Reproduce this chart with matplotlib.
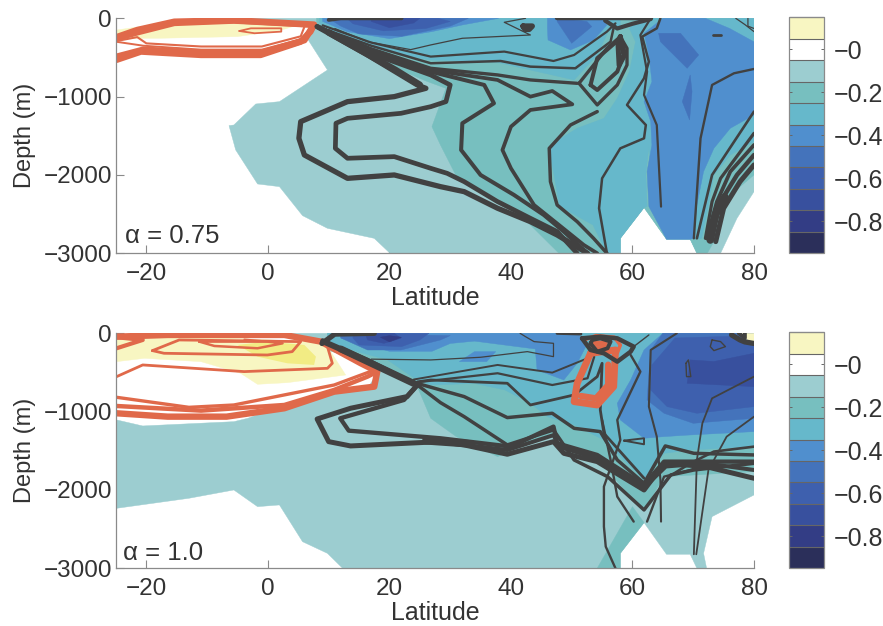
import matplotlib
matplotlib.use("Agg")
import matplotlib.pyplot as plt
from matplotlib.colors import ListedColormap, BoundaryNorm
from matplotlib.cm import ScalarMappable

plt.rcParams['font.family'] = ['Liberation Sans', 'DejaVu Sans']

# ---- colour scale ----
bin_edges = [-0.95, -0.85, -0.75, -0.65, -0.55, -0.45, -0.35, -0.25, -0.15, -0.05, 0.05, 0.15]
bin_colors = ['#2B2F5A', '#333D85', '#38509E', '#3E60AE', '#4473BB', '#508FCE',
              '#66B8CB', '#77BFBF', '#9CCDD0', '#FFFFFF', '#F8F6C2']
cbar_ticks = [0, -0.2, -0.4, -0.6, -0.8]
cbar_labels = ['\u22120', '\u22120.2', '\u22120.4', '\u22120.6', '\u22120.8']
lat_ticks = [-20, 0, 20, 40, 60, 80]
depth_ticks = [0, -1000, -2000, -3000]

# ---- top panel: filled regions (lat, depth below surface) ----
a_m01 = [(-3.7, 0), (7, 80), (6.5, 260), (9.8, 660), (1.9, 1064), (-2, 1094), (-5.6, 1362), (-6.4, 1370),
         (-5.3, 1681), (-1.7, 2115), (1.9, 2149), (5.7, 2519), (9.8, 2681), (17.5, 2809), (20.1, 3000),
         (58, 3000), (58, 2809), (61.9, 2417), (65.6, 2821), (69.5, 2821), (70.6, 3000), (74.5, 3000),
         (77.2, 2553), (80, 2213), (80, 0)]
a_m02 = [(8, 80), (17, 500), (26, 800), (29.3, 894), (27, 1383), (28.4, 1617), (31.2, 2043), (37.8, 2298),
         (43.2, 2638), (47.9, 3000), (58, 3000), (58, 2809), (61.9, 2417), (65.6, 2821), (69.5, 2821),
         (70.6, 3000), (72.3, 3000), (73.4, 2851), (73.9, 2595), (76.1, 2255), (80, 2000), (80, 0), (8, 0)]
a_m03_top = [(8.5, 60), (13.6, 298), (21.9, 468), (26.8, 532), (37.8, 562), (43.2, 660), (50.4, 787),
             (54.2, 468), (56, 170), (58, 100), (58, 0), (8.5, 0)]
a_m03_mid = [(46.3, 1702), (46.5, 1617), (50.9, 1404), (55.3, 1277), (57.5, 1021), (59.5, 680), (60.5, 300),
             (59.5, 128), (61, 0), (63, 0), (63, 680), (61.9, 1106), (63, 1400), (62.2, 1990), (62.4, 2400),
             (61.9, 2417), (58, 2809), (58, 3000), (55.8, 3000), (53.5, 2638), (48, 2400), (47, 1957)]
a_m03_right = [(61, 0), (80, 0), (80, 1574), (76.1, 1745), (73.4, 2000), (72.5, 2383), (71.4, 2809),
               (70, 2821), (63, 2000)]
a_m04_left = [(9, 40), (13, 170), (20, 260), (27, 170), (32, 85), (38, 0), (9, 0)]
a_m04_mid = [(46, 128), (46.1, 277), (49.8, 404), (53.6, 277), (55.8, 85), (55, 0), (46, 0)]
a_m04_right = [(65, 0), (61.9, 191), (62.7, 468), (63.2, 808), (61.9, 1064), (63, 1319), (63.2, 1617),
               (62.4, 1957), (62.7, 2404), (65.6, 2821), (69.5, 2821), (70.1, 2809), (70.6, 2383), (71.7, 1957),
               (73.4, 1660), (76.1, 1404), (80, 1234), (80, 300), (76, 130), (72, 0)]
a_m05_left = [(12, 100), (15, 200), (22, 230), (30, 100), (33, 0), (10, 0)]
a_m05_mid = [(47.6, 40), (50, 319), (53.3, 106), (52.5, 40), (47.6, 0)]
a_m05_r1 = [(64.3, 191), (64.6, 298), (69, 638), (70.9, 468), (67.9, 191)]
a_m05_r2 = [(69.5, 723), (68.2, 1064), (69.4, 1298), (69.8, 936)]
a_m06 = [(14, 70), (19, 160), (26, 130), (30, 40), (28, 0), (13, 0)]
a_m07 = [(17, 40), (20, 120), (24, 60), (25, 0), (17, 0)]
a_pos = [(-24.9, 150), (-15.4, 43), (5, 85), (2.2, 150), (-5, 234), (-18, 255), (-24.9, 255)]

# ---- top panel: contour lines ----
a_k1 = [(8.1, 106), (16.4, 468), (24.6, 851), (26, 894), (20.8, 1000), (13.1, 1064), (5.4, 1319), (5.1, 1532),
        (6, 1745), (13.1, 2043), (20.8, 2000), (28.4, 2149), (32.3, 2213), (37.8, 2425), (43.2, 2596),
        (47.6, 2766), (52.6, 3000)]
a_k2 = [(8.1, 106), (17, 450), (26.8, 723), (30, 851), (29.3, 1064), (26.8, 1128), (21.9, 1213), (13.1, 1277),
        (11.2, 1340), (11.1, 1660), (13.1, 1787), (20.8, 1766), (26.8, 1915), (29.5, 1979), (32.3, 2085),
        (37.8, 2340), (43.2, 2553), (47.6, 2723), (50.9, 3000)]
a_k3 = [(8.1, 106), (17, 420), (26.8, 681), (35.6, 851), (37.2, 1085), (32, 1340), (31.8, 1681), (35, 2000),
        (40.5, 2255), (45.4, 2510), (48.7, 2723), (52.6, 3000)]
a_k4 = [(8.1, 106), (17, 400), (26.8, 660), (37.8, 787), (43.2, 1000), (46.8, 928), (50.1, 1098), (43.2, 1170),
        (40, 1383), (38.6, 1681), (40, 1915), (43.8, 2383), (47.9, 2638), (52, 2894), (54.2, 3000)]
a_k5a = [(8.1, 106), (17, 390), (26.8, 638), (37.8, 723), (43.2, 787), (50.9, 830)]
a_k5b = [(54.2, 1191), (49.8, 1362), (46.3, 1660), (46.5, 2085), (47.6, 2383), (50.9, 2596), (53.6, 2809),
         (55.8, 3000)]
a_fan = [(10, 180), (16, 440), (21, 660), (25, 850)]
a_d1 = [(51.2, 830), (54.2, 1106), (57.5, 851), (59.1, 596), (59.1, 383), (58, 234), (55.8, 383), (51.2, 830)]
a_d2 = [(53.1, 851), (54.2, 915), (57.5, 681), (58.5, 468), (58, 255), (54.2, 510), (53.1, 851)]
a_d3 = [(58, 234), (58.7, 468), (57.8, 600), (57.6, 300), (58, 234)]
a_k6 = [(8.1, 106), (17, 350), (26.8, 574), (38.3, 545), (43.2, 617), (50.6, 638), (56.4, 298), (57, 85)]
a_k7 = [(9, 90), (17, 310), (26.8, 489), (38.9, 425), (47, 545), (50.4, 468), (55.8, 170), (57.2, 64)]
a_k8 = [(11, 130), (16.4, 298), (23.5, 400), (26.8, 340), (32, 255), (43.2, 213), (38.9, 51), (42.4, 0)]
a_top1 = [(47.6, 0), (63, 0)]
a_top2 = [(55.5, 30), (57.5, 130), (60, 70), (63, 10)]
a_top3 = [(10, 20), (12, 0), (22, 0)]
a_blob = [(42, 100), (43.5, 100), (43, 140), (42.3, 140), (42, 100)]
a_j1 = [(64.6, 0), (64, 128), (61.6, 234), (62.7, 553), (61.9, 766), (59.1, 1106), (62.2, 1362), (61.9, 1532),
        (58, 1660), (55, 2043), (54.5, 2425), (55.8, 3000)]
a_j2 = [(63, 0), (61.3, 213), (62.4, 681), (61.9, 978), (64, 1362), (64.7, 2404)]
a_j3 = [(70.1, 2809), (71.2, 1532), (73.1, 851), (76.7, 702), (80, 647)]
a_f1 = [(70.6, 2809), (73.1, 2000), (80, 1191)]
a_f2 = [(72, 2809), (73.1, 2340), (74.5, 2043), (80, 1468)]
a_f3 = [(72.2, 2809), (73.9, 2340), (76.1, 1957), (80, 1617)]
a_f4 = [(72.8, 2830), (74.5, 2340), (77.2, 2000), (80, 1745)]
a_f5 = [(73.7, 2851), (75, 2425), (77.7, 2085), (80, 1872)]
a_f6 = [(72.8, 2830), (73.7, 2500), (75.2, 2280)]
a_s1 = [(77, 0), (78.5, 80), (80, 170)]
a_s2 = [(79, 0), (79, 100), (80, 130)]
a_s3 = [(73.2, 213), (74.5, 213)]

# ---- top panel: positive (orange) lines ----
a_o1 = [(-24.9, 240), (-21.5, 149), (-15.4, 43), (-5.6, 25), (7.6, 80), (7, 170), (5.4, 298), (-1.2, 468),
        (-11, 468), (-20.9, 425), (-24.9, 530)]
a_o2 = [(-24.9, 265), (-21.5, 190), (-15.4, 70), (-5.6, 40), (6.8, 90)]
a_o3 = [(-24.9, 290), (-21.5, 240), (-20, 320), (-11, 360), (-1, 360), (5.4, 230), (6, 110)]
a_o4 = [(-24.9, 300), (-20.5, 350), (-11, 400), (-1, 400), (5.8, 260)]
a_o5 = [(-24.9, 490), (-20.5, 400), (-11, 440), (-1, 440), (6, 280), (7.4, 100)]
a_o6 = [(-4.7, 162), (-2.8, 128), (2.2, 128), (2.2, 170), (-2.2, 191), (-4.7, 162)]

# ---- bottom panel: filled regions ----
b_m01 = [(-24.9, 1106), (-20.6, 1183), (-5.6, 1128), (-3.3, 1085), (6.5, 808), (16.4, 702), (18, 510),
         (15, 370), (9.8, 170), (6, 85), (2.7, 0), (80, 0), (80, 2064), (73.1, 2340), (71.7, 2809),
         (72.2, 3000), (70.6, 3000), (69.5, 2821), (65.6, 2821), (61.9, 2417), (58, 2809), (58, 3000),
         (12.3, 3000), (9.8, 2809), (5.7, 2660), (1.9, 2191), (-1.7, 2213), (-5.6, 2000), (-13, 2106),
         (-24.9, 2234)]
b_m02 = [(9.8, 213), (19.7, 468), (24.6, 681), (26.8, 1085), (31, 1319), (37.8, 1574), (43, 1400), (47, 1277),
         (49.8, 1489), (55.3, 1702), (59.7, 2085), (61.9, 2255), (65.2, 1830), (80, 1766), (80, 0), (9.8, 0)]
b_m02_strip = [(60, 2213), (61.9, 2417), (58, 2809), (58, 3000), (54.2, 3000)]
b_m03 = [(9.8, 130), (19.7, 340), (24.6, 600), (26.8, 660), (34, 640), (39, 723), (43.2, 894), (46, 1064),
         (50.4, 1170), (55.3, 1362), (59.7, 1702), (61.9, 1872), (65.2, 1532), (69.5, 1489), (80, 1447),
         (80, 0), (9.8, 0)]
b_m04_left = [(12, 60), (20, 230), (27, 230), (30, 130), (34, 100), (37, 130), (44, 200), (44.3, 468),
              (48.7, 596), (50.9, 383), (52.6, 128), (50.9, 0), (12, 0)]
b_m04_patch = [(31.5, 362), (34, 234), (37.5, 234), (36, 362)]
b_m04_right = [(65, 0), (61.9, 213), (59.7, 596), (57.5, 893), (58, 1106), (61.9, 1340), (65.2, 1319),
               (69, 1300), (80, 1255), (80, 0)]
b_m05_left = [(12, 60), (16.4, 213), (21.9, 213), (28.4, 85), (30, 30), (12, 0)]
b_m05_right = [(65, 0), (63, 213), (62.4, 851), (65.2, 1021), (70, 1149), (80, 1085), (80, 0)]
b_m06_left = [(14, 60), (15, 149), (22, 170), (25, 85), (26.5, 0), (14, 0)]
b_m06_right = [(67, 60), (63.2, 404), (63, 723), (65.7, 936), (70.6, 1021), (80, 936), (80, 30)]
b_m07_left = [(16.4, 85), (19.1, 128), (21.9, 64), (20.8, 0), (16, 0)]
b_m07_right = [(69.5, 340), (69, 638), (80, 681), (80, 255), (73.4, 360)]
b_m08_spot = [(18.5, 50), (20, 110), (22, 50), (20, 30)]
b_pos_light = [(-24.9, 100), (-24.9, 362), (-20.3, 319), (-11, 362), (-4.5, 510), (-1.7, 651), (3.2, 630),
               (12.8, 532), (9.8, 170), (6.5, 106), (-11, 43), (-24.9, 60)]
b_pos_deep = [(-5, 149), (-1.7, 298), (3.2, 383), (7.6, 404), (7.9, 298), (6, 149), (-0.1, 106)]
b_pos_corner = [(78, 0), (78.8, 80), (80, 110), (80, 0)]

# ---- bottom panel: contour lines ----
b_k1 = [(9, 106), (16.4, 362), (24.6, 660), (22.9, 808), (13.6, 957), (8.1, 1094), (10, 1383), (13.6, 1438),
        (28.4, 1383), (32.3, 1425), (39.4, 1544), (47, 1383), (48.7, 1532), (54.2, 1638), (61.9, 2000),
        (65.2, 1660), (72, 1700), (80, 1851)]
b_k2 = [(9, 90), (16.4, 340), (24.6, 660), (22.4, 851), (11.9, 1085), (13.3, 1243), (28.4, 1340), (40, 1447),
        (47, 1191), (47.6, 1404), (54.2, 1553), (61.9, 1936), (65.2, 1638), (80, 1638)]
b_k2b = [(26.8, 1370), (39.4, 1490), (47, 1300), (48, 1450), (54.2, 1600), (61.9, 1970), (65.5, 1700), (72, 1660),
         (80, 1745)]
b_k3 = [(24.6, 660), (28.4, 885), (32.3, 1064), (39.4, 1425), (47, 1234), (50.4, 1617), (55.9, 1830),
        (61.9, 2255), (66.3, 1808), (70.1, 1745), (80, 1660)]
b_k4 = [(24.6, 640), (32.3, 808), (39.4, 1076), (46.8, 1021), (50.4, 1213), (54.7, 1255), (57.5, 1617),
        (61.9, 1915), (65.4, 1438), (70.1, 1532), (80, 1553)]
b_k5 = [(24.6, 620), (26.8, 596), (39.4, 638), (43.2, 915), (50.4, 787), (54.2, 553), (55, 383), (54.7, 978),
        (55.3, 1277), (61.9, 1850)]
b_k6 = [(24, 630), (37.8, 510), (46.8, 660), (52.6, 574), (53.7, 300)]
b_k7 = [(24, 590), (37.8, 404), (46.8, 502), (52.6, 319)]
b_k8 = [(17, 330), (26.8, 340), (35, 306), (42.7, 234), (47, 298), (47, 128), (43.8, 106), (42.4, 43), (41.5, 0)]
b_fan = [(12, 200), (18, 420), (24, 640)]
b_band = [(26, 1372), (33, 1410)]
b_j1 = [(59.7, 277), (61.3, 489), (57.5, 1106), (58, 1362), (55.3, 1957), (55.3, 2468), (55.6, 2723), (57.2, 3000)]
b_j2 = [(55, 1106), (56.4, 1617), (57.5, 2085), (60.2, 2404)]
b_j3 = [(67.3, 0), (63, 213), (62.7, 936), (64, 1319), (64.6, 1872), (64.7, 2404)]
b_j4 = [(62.4, 2404), (65.2, 1830), (69.5, 1745), (73.4, 1638)]
b_j5 = [(70.1, 2821), (70.6, 1617), (71.5, 1149), (73.1, 830), (80, 553)]
b_j6 = [(70.5, 2821), (72.5, 1745), (75.5, 1319), (80, 1064)]
b_j7 = [(80, 1447), (73.4, 1510), (69.5, 1660), (66, 1830)]
b_j8 = [(60.2, 170), (62.7, 21)]
b_loop1 = [(58.6, 1370), (61.9, 1340), (61.9, 1417), (58.6, 1370)]
b_loop2 = [(68.8, 383), (69.2, 340), (69.6, 553), (68.9, 553), (68.8, 383)]
b_loop3 = [(73.1, 85), (74.5, 106), (75.3, 170), (73.4, 221), (72.8, 170), (73.1, 85)]
b_top1 = [(8.9, 130), (11, 10), (17.5, 0)]
b_top2 = [(47.6, 0), (51.5, 8)]
b_top3 = [(76.3, 20), (77.7, 85), (78.5, 110), (80, 130)]
b_top4 = [(77.5, 0), (78.5, 60), (78.5, 0)]
b_ring1 = [(51.7, 64), (53.1, 213), (55.3, 255), (57.5, 362), (59.7, 234), (60.2, 170), (57.5, 64), (54.7, 43),
           (51.7, 64)]
b_ring2 = [(53.1, 128), (54.2, 234), (55.9, 191), (56.4, 106), (54.7, 64), (53.4, 85), (53.1, 128)]

# ---- bottom panel: positive (orange) lines ----
b_o1 = [(-24.9, 43), (-16.5, 21), (-5.6, 21), (2.7, 21), (8.7, 106), (15.3, 383), (18, 489), (17.5, 681),
        (10.9, 745), (2.7, 957), (-6.8, 1064), (-16.5, 1064), (-24.9, 1021)]
b_o2 = [(-24.9, 928), (-11, 987), (2.7, 915), (10.9, 723), (16.4, 553), (18, 489)]
b_o3 = [(-24.9, 817), (-13, 945), (-5.6, 915), (10.9, 660), (17.5, 470)]
b_o4 = [(-24.9, 553), (-20.6, 404), (-3.9, 489), (9.8, 447), (10.6, 383), (9.8, 170)]
b_o5 = [(-19, 221), (-17.1, 255), (-0.1, 277), (4, 234), (5.4, 106), (-14.6, 85), (-19, 221)]
b_o6 = [(-11.3, 106), (-8.8, 162), (-1.7, 191), (2.4, 128), (-0.1, 106), (-11.3, 106)]
b_o7 = [(-3.9, 77), (2.4, 120)]
b_o8 = [(-24.9, 191), (-20.6, 85), (-24.9, 50)]
b_o9 = [(53.1, 255), (50.9, 638), (50.4, 872), (54.2, 915), (56.9, 681), (57.2, 213), (53.1, 255)]
b_o10 = [(51.5, 800), (54, 830), (56, 660), (56, 400)]
b_o11 = [(53.4, 128), (55.5, 128), (55, 200), (53.7, 200), (53.4, 128)]
b_o12 = [(52.2, 80), (54, 30), (57, 50), (58, 150), (57.5, 250)]

# ---- layers: (level value, polygon) painted in order ----
a_layers = [(-0.1, a_m01), (-0.2, a_m02), (-0.3, a_m03_right), (-0.3, a_m03_top), (-0.3, a_m03_mid),
            (-0.4, a_m04_left), (-0.4, a_m04_mid), (-0.4, a_m04_right),
            (-0.5, a_m05_left), (-0.5, a_m05_mid), (-0.5, a_m05_r1), (-0.5, a_m05_r2),
            (-0.6, a_m06), (-0.7, a_m07), (0.1, a_pos)]
b_layers = [(-0.1, b_m01), (-0.2, b_m02), (-0.2, b_m02_strip), (-0.3, b_m03),
            (-0.4, b_m04_left), (-0.4, b_m04_patch), (-0.4, b_m04_right),
            (-0.5, b_m05_left), (-0.5, b_m05_right), (-0.6, b_m06_left), (-0.6, b_m06_right),
            (-0.7, b_m07_left), (-0.7, b_m07_right), (-0.8, b_m08_spot),
            (0.1, b_pos_light), (0.1, b_pos_corner)]

a_dark = [(a_k1, 3.8), (a_k2, 3.4), (a_k3, 2.9), (a_k4, 2.7), (a_k5a, 2.4), (a_k5b, 2.5), (a_d1, 2.4), (a_d2, 2.9),
          (a_d3, 3.6), (a_k6, 1.8), (a_k7, 1.6), (a_k8, 0.9), (a_top1, 3.2), (a_top2, 3.0), (a_top3, 2.8),
          (a_blob, 4.0), (a_j1, 1.8), (a_j2, 1.6), (a_j3, 1.7), (a_f1, 1.9), (a_f2, 2.3), (a_f3, 2.7),
          (a_f4, 3.2), (a_f5, 3.6), (a_f6, 5.5), (a_s1, 0.9), (a_s2, 0.9), (a_s3, 2.0), (a_fan, 4.8)]
a_orange = [(a_o1, 4.6), (a_o2, 3.4), (a_o3, 1.5), (a_o4, 1.4), (a_o5, 4.6), (a_o6, 1.3)]
b_dark = [(b_k1, 3.6), (b_k2, 3.1), (b_k2b, 2.9), (b_k3, 2.5), (b_k4, 2.5), (b_k5, 2.0), (b_k6, 1.6), (b_k7, 1.4),
          (b_k8, 0.9), (b_j1, 1.7), (b_j2, 1.7), (b_j3, 1.5), (b_j4, 1.7), (b_j5, 1.3), (b_j6, 1.3), (b_j7, 1.9),
          (b_j8, 1.0), (b_loop1, 1.4), (b_loop2, 1.0), (b_loop3, 1.0), (b_top1, 3.8), (b_top2, 2.2), (b_top3, 3.8),
          (b_top4, 2.8), (b_fan, 5.0), (b_band, 5.5)]
b_orange = [(b_o1, 4.6), (b_o2, 3.2), (b_o3, 2.4), (b_o4, 2.0), (b_o5, 2.0), (b_o6, 1.8), (b_o7, 1.2), (b_o8, 3.0)]
b_orange_top = [(b_o9, 5.0), (b_o10, 4.5), (b_o11, 4.0), (b_o12, 2.6)]
b_dark_top = [(b_ring1, 3.2), (b_ring2, 2.8)]

DARK = '#414141'
ORANGE = '#E0694A'
DEEP_YELLOW = '#F2EC84'
TEXT = '#333333'
SPINE = '#8A8A8A'

cmap = ListedColormap(bin_colors)
norm = BoundaryNorm(bin_edges, cmap.N)

W, H = 883, 626
fig = plt.figure(figsize=(W / 100, H / 100), dpi=100, facecolor='white')


def add_axes(left, top, right, bottom):
    return fig.add_axes([left / W, 1 - bottom / H, (right - left) / W, (bottom - top) / H])


def polyline(ax, pts, lw, color, z):
    ax.plot([p[0] for p in pts], [-p[1] for p in pts], color=color, lw=lw, zorder=z,
            solid_joinstyle='round', solid_capstyle='round')


def style_axes(ax, label_text, label_lat, label_depth):
    ax.set_xlim(-25, 80)
    ax.set_ylim(-3000, 0)
    ax.set_xticks(lat_ticks)
    ax.set_yticks(depth_ticks)
    ax.set_yticklabels(['0', '\u22121000', '\u22122000', '\u22123000'])
    ax.set_xticklabels(['\u221220', '0', '20', '40', '60', '80'])
    for s in ('top', 'right'):
        ax.spines[s].set_visible(False)
    for s in ('left', 'bottom'):
        ax.spines[s].set_color(SPINE)
        ax.spines[s].set_linewidth(0.9)
        ax.spines[s].set_zorder(20)
    ax.tick_params(direction='in', length=6, width=0.8, color=SPINE, labelsize=17.5,
                   labelcolor=TEXT, zorder=20)
    ax.tick_params(axis='x', pad=7)
    ax.tick_params(axis='y', pad=3)
    ax.set_xlabel('Latitude', fontsize=18, color=TEXT, va='center')
    ax.xaxis.set_label_coords(0.5, -0.19)
    ax.set_ylabel('Depth (m)', fontsize=17, color=TEXT, va='center')
    ax.yaxis.set_label_coords(-0.143, 0.5)
    ax.text(label_lat, label_depth, label_text, fontsize=18.5, color=TEXT, va='center', ha='left', zorder=15)


def draw_panel(ax, layers):
    for value, poly in layers:
        ax.fill([p[0] for p in poly], [-p[1] for p in poly], color=cmap(norm(value)), lw=0.3, zorder=2)


ax1 = add_axes(116, 18.3, 754, 253.3)
draw_panel(ax1, a_layers)
for pts, lw in a_orange:
    polyline(ax1, pts, lw, ORANGE, 5)
for pts, lw in a_dark:
    polyline(ax1, pts, lw, DARK, 6)
style_axes(ax1, '\u03b1 = 0.75', -23.5, -2780)

ax2 = add_axes(116, 333.3, 754, 568.3)
draw_panel(ax2, b_layers)
ax2.fill([p[0] for p in b_pos_deep], [-p[1] for p in b_pos_deep], color=DEEP_YELLOW, lw=0, zorder=3)
for pts, lw in b_orange:
    polyline(ax2, pts, lw, ORANGE, 5)
for pts, lw in b_dark:
    polyline(ax2, pts, lw, DARK, 6)
for pts, lw in b_orange_top:
    polyline(ax2, pts, lw, ORANGE, 7)
for pts, lw in b_dark_top:
    polyline(ax2, pts, lw, DARK, 8)
style_axes(ax2, '\u03b1 = 1.0', -23.8, -2800)

for top, bottom in ((17.3, 253.3), (332.3, 568.3)):
    cax = add_axes(789, top, 824, bottom)
    cb = fig.colorbar(ScalarMappable(norm=norm, cmap=cmap), cax=cax, boundaries=bin_edges, spacing='proportional',
                      drawedges=True)
    cb.set_ticks(cbar_ticks)
    cb.set_ticklabels(cbar_labels)
    cb.outline.set_edgecolor(SPINE)
    cb.outline.set_linewidth(0.9)
    cb.dividers.set_color('#666666')
    cb.dividers.set_linewidth(0.8)
    cax.tick_params(left=True, right=True, direction='in', length=2.5, width=0.7, color='#666666',
                    labelsize=18, labelcolor=TEXT, pad=7)
    cax.minorticks_off()

fig.savefig('out.png', dpi=100)
